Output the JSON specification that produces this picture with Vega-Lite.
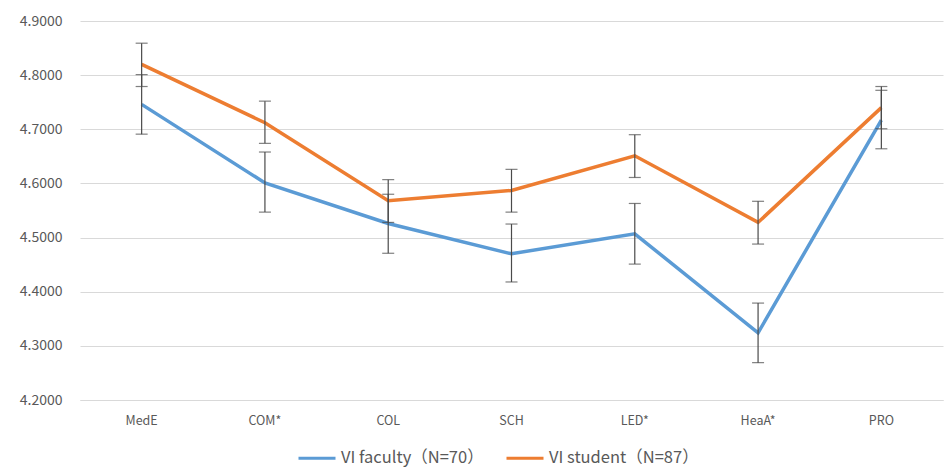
{
  "$schema": "https://vega.github.io/schema/vega-lite/v6.json",
  "width": 863,
  "height": 379,
  "autosize": {"type": "none"},
  "padding": {"left": 80, "top": 21, "right": 4, "bottom": 70},
  "background": "white",
  "config": {
    "view": {"stroke": null},
    "font": "Noto Sans CJK SC",
    "axis": {"labelColor": "#595959", "labelFontSize": 12, "titleColor": "#595959"}
  },
  "data": {
    "values": [
      {"domain": "MedE", "group": "VI faculty（N=70）", "mean": 4.746, "lo": 4.691, "hi": 4.801},
      {"domain": "COM*", "group": "VI faculty（N=70）", "mean": 4.601, "lo": 4.547, "hi": 4.658},
      {"domain": "COL", "group": "VI faculty（N=70）", "mean": 4.526, "lo": 4.471, "hi": 4.580},
      {"domain": "SCH", "group": "VI faculty（N=70）", "mean": 4.470, "lo": 4.418, "hi": 4.525},
      {"domain": "LED*", "group": "VI faculty（N=70）", "mean": 4.507, "lo": 4.451, "hi": 4.563},
      {"domain": "HeaA*", "group": "VI faculty（N=70）", "mean": 4.324, "lo": 4.269, "hi": 4.379},
      {"domain": "PRO", "group": "VI faculty（N=70）", "mean": 4.717, "lo": 4.664, "hi": 4.772},
      {"domain": "MedE", "group": "VI student（N=87）", "mean": 4.820, "lo": 4.779, "hi": 4.859},
      {"domain": "COM*", "group": "VI student（N=87）", "mean": 4.712, "lo": 4.674, "hi": 4.752},
      {"domain": "COL", "group": "VI student（N=87）", "mean": 4.568, "lo": 4.528, "hi": 4.607},
      {"domain": "SCH", "group": "VI student（N=87）", "mean": 4.587, "lo": 4.547, "hi": 4.626},
      {"domain": "LED*", "group": "VI student（N=87）", "mean": 4.651, "lo": 4.611, "hi": 4.690},
      {"domain": "HeaA*", "group": "VI student（N=87）", "mean": 4.528, "lo": 4.488, "hi": 4.567},
      {"domain": "PRO", "group": "VI student（N=87）", "mean": 4.740, "lo": 4.701, "hi": 4.779}
    ]
  },
  "encoding": {
    "x": {
      "field": "domain",
      "type": "nominal",
      "sort": ["MedE", "COM*", "COL", "SCH", "LED*", "HeaA*", "PRO"],
      "scale": {"paddingInner": 0, "paddingOuter": 0},
      "axis": {"title": null, "labelAngle": 0, "ticks": false, "domainColor": "#D9D9D9", "labelPadding": 14, "labelFontSize": 12.5}
    }
  },
  "layer": [
    {
      "mark": {"type": "line", "strokeWidth": 3.5},
      "encoding": {
        "y": {
          "field": "mean",
          "type": "quantitative",
          "scale": {"domain": [4.2, 4.9], "nice": false, "zero": false},
          "axis": {
            "title": null,
            "values": [4.2, 4.3, 4.4, 4.5, 4.6, 4.7, 4.8, 4.9],
            "format": ".4f",
            "domain": false,
            "ticks": false,
            "gridColor": "#D9D9D9",
            "labelPadding": 18,
            "labelFontSize": 14
          }
        },
        "color": {
          "field": "group",
          "type": "nominal",
          "scale": {"domain": ["VI faculty（N=70）", "VI student（N=87）"], "range": ["#5B9BD5", "#ED7D31"]},
          "legend": {
            "title": null,
            "orient": "none",
            "legendX": 217,
            "legendY": 417,
            "direction": "horizontal",
            "symbolType": "stroke",
            "symbolSize": 1369,
            "symbolStrokeWidth": 3,
            "symbolOffset": 0,
            "labelOffset": 4,
            "labelFontSize": 16.5,
            "labelColor": "#595959",
            "columnPadding": 16
          }
        }
      }
    },
    {
      "mark": {"type": "rule", "color": "#4a4a4a", "strokeWidth": 1.2},
      "encoding": {
        "y": {"field": "lo", "type": "quantitative"},
        "y2": {"field": "hi"},
        "detail": {"field": "group"}
      }
    },
    {
      "mark": {"type": "tick", "color": "#4a4a4a", "size": 12, "thickness": 1.2},
      "encoding": {"y": {"field": "lo", "type": "quantitative"}}
    },
    {
      "mark": {"type": "tick", "color": "#4a4a4a", "size": 12, "thickness": 1.2},
      "encoding": {"y": {"field": "hi", "type": "quantitative"}}
    }
  ]
}
